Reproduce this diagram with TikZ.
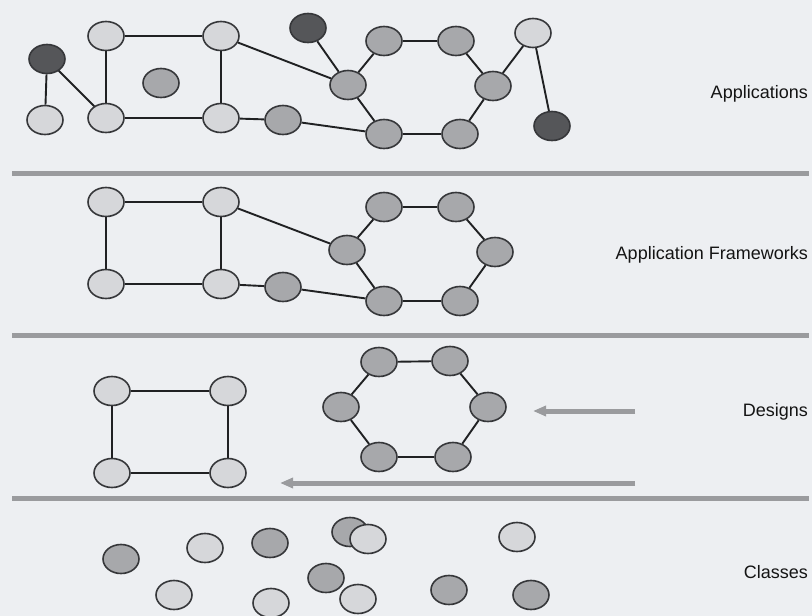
\documentclass[tikz,border=0pt]{standalone}
\usepackage{fontspec}
\setmainfont{Liberation Sans}
\usetikzlibrary{shapes.geometric,arrows.meta}

\definecolor{paper}{HTML}{EDEFF2}
\definecolor{fillLight}{HTML}{D6D7DA}
\definecolor{fillMid}{HTML}{A7A8AB}
\definecolor{fillDark}{HTML}{555659}
\definecolor{rim}{HTML}{36373A}
\definecolor{wire}{HTML}{202123}
\definecolor{bar}{HTML}{9A9B9E}

\tikzset{
  obj/.style={ellipse, draw=rim, line width=1.6pt, inner sep=0pt,
              minimum width=36pt, minimum height=29pt},
  nlight/.style={obj, fill=fillLight},
  nmid/.style={obj, fill=fillMid},
  ndark/.style={obj, fill=fillDark},
  link/.style={draw=wire, line width=1.9pt},
  divider/.style={draw=bar, line width=5pt},
  flow/.style={draw=bar, line width=5pt, -{Triangle[length=13pt,width=10pt]}},
  layername/.style={anchor=east, font=\fontsize{18}{20}\selectfont, text=black!92, inner sep=0pt}
}

\begin{document}
\begin{tikzpicture}[x=1pt,y=-1pt]
  \fill[paper] (0,0) rectangle (812,616);
  \useasboundingbox (0,0) rectangle (812,616);

  % ---- Applications ----
  \node[ndark]  (a1)  at (47,59)   {};
  \node[nlight] (a2)  at (45,120)  {};
  \node[nlight] (a3)  at (106,36)  {};
  \node[nlight] (a4)  at (106,118) {};
  \node[nmid]   (a5)  at (161,83)  {};
  \node[nlight] (a6)  at (221,36)  {};
  \node[nlight] (a7)  at (221,118) {};
  \node[nmid]   (a8)  at (283,120) {};
  \node[ndark]  (a9)  at (308,28)  {};
  \node[nmid]   (a10) at (348,85)  {};
  \node[nmid]   (a11) at (384,41)  {};
  \node[nmid]   (a12) at (384,134) {};
  \node[nmid]   (a13) at (456,41)  {};
  \node[nmid]   (a14) at (493,86)  {};
  \node[nmid]   (a15) at (460,134) {};
  \node[nlight] (a16) at (533,33)  {};
  \node[ndark]  (a17) at (552,126) {};
  \foreach \u/\v in {a1/a2,a1/a4,a3/a4,a3/a6,a4/a7,a6/a7,a6/a10,a7/a8,a8/a12,
                     a9/a10,a10/a11,a10/a12,a11/a13,a12/a15,a13/a14,a14/a15,
                     a14/a16,a16/a17}
    \draw[link] (\u) -- (\v);
  \node[layername] (tApp) at (808,94) {Applications};

  \coordinate (b1l) at (12,173);  \coordinate (b1r) at (809,173);
  \draw[divider] (b1l) -- (b1r);

  % ---- Application Frameworks ----
  \node[nlight] (f1)  at (106,202) {};
  \node[nlight] (f2)  at (221,202) {};
  \node[nlight] (f3)  at (106,284) {};
  \node[nlight] (f4)  at (221,284) {};
  \node[nmid]   (f5)  at (283,287) {};
  \node[nmid]   (f6)  at (347,250) {};
  \node[nmid]   (f7)  at (384,207) {};
  \node[nmid]   (f8)  at (384,301) {};
  \node[nmid]   (f9)  at (456,207) {};
  \node[nmid]   (f10) at (495,252) {};
  \node[nmid]   (f11) at (460,301) {};
  \foreach \u/\v in {f1/f2,f1/f3,f2/f4,f3/f4,f2/f6,f4/f5,f5/f8,f6/f7,f6/f8,
                     f7/f9,f8/f11,f9/f10,f10/f11}
    \draw[link] (\u) -- (\v);
  \node[layername] (tFw) at (808,255) {Application Frameworks};

  \coordinate (b2l) at (12,335);  \coordinate (b2r) at (809,335);
  \draw[divider] (b2l) -- (b2r);

  % ---- Designs ----
  \node[nlight] (d1)  at (112,391) {};
  \node[nlight] (d2)  at (228,391) {};
  \node[nlight] (d3)  at (112,473) {};
  \node[nlight] (d4)  at (228,473) {};
  \node[nmid]   (d5)  at (379,362) {};
  \node[nmid]   (d6)  at (341,407) {};
  \node[nmid]   (d7)  at (379,457) {};
  \node[nmid]   (d8)  at (450,361) {};
  \node[nmid]   (d9)  at (488,407) {};
  \node[nmid]   (d10) at (453,457) {};
  \foreach \u/\v in {d1/d2,d1/d3,d2/d4,d3/d4,d5/d6,d6/d7,d5/d8,d7/d10,d8/d9,d9/d10}
    \draw[link] (\u) -- (\v);
  \node[layername] (tDes) at (808,412) {Designs};

  \coordinate (r1s) at (635,411); \coordinate (r1e) at (533,411);
  \draw[flow] (r1s) -- (r1e);
  \coordinate (r2s) at (635,483); \coordinate (r2e) at (280,483);
  \draw[flow] (r2s) -- (r2e);

  \coordinate (b3l) at (12,498);  \coordinate (b3r) at (809,498);
  \draw[divider] (b3l) -- (b3r);

  % ---- Classes ----
  \node[nmid]   (c1)  at (121,559) {};
  \node[nlight] (c2)  at (205,548) {};
  \node[nmid]   (c3)  at (270,543) {};
  \node[nmid]   (c4)  at (350,532) {};
  \node[nlight] (c5)  at (368,539) {};
  \node[nlight] (c6)  at (174,595) {};
  \node[nlight] (c7)  at (271,603) {};
  \node[nmid]   (c8)  at (326,578) {};
  \node[nlight] (c9)  at (358,599) {};
  \node[nlight] (c10) at (517,537) {};
  \node[nmid]   (c11) at (449,590) {};
  \node[nmid]   (c12) at (531,595) {};
  \node[layername] (tCls) at (808,572) {Classes};
\end{tikzpicture}
\end{document}
